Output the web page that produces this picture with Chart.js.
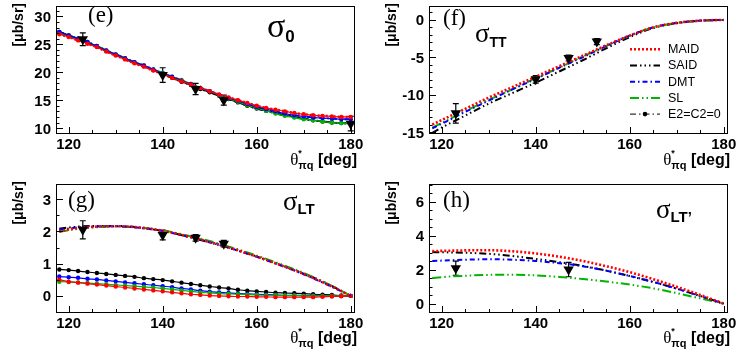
<!DOCTYPE html>
<html><head><meta charset="utf-8">
<script src="https://cdn.jsdelivr.net/npm/chart.js@4.4.0/dist/chart.umd.min.js"></script>
<style>
body{margin:0;background:#fff;}
#wrap{position:relative;width:747px;height:357px;background:#fff;overflow:hidden;}
canvas{position:absolute;}
</style></head><body>
<div id="wrap">
<canvas id="pe" width="373" height="178" style="left:0;top:0"></canvas>
<canvas id="pf" width="374" height="178" style="left:373px;top:0"></canvas>
<canvas id="pg" width="373" height="179" style="left:0;top:178px"></canvas>
<canvas id="ph" width="374" height="179" style="left:373px;top:178px"></canvas>
</div>
<script>
// ---------------- data ----------------
const grid2 = [118,120,122,124,126,128,130,132,134,136,138,140,142,144,146,148,150,152,154,156,158,160,162,164,166,168,170,172,174,176,178,180];
const grid5 = [118,120,125,130,135,140,145,150,155,160,165,170,175,180];
const xTicks = [120,140,160,180];

// (e) sigma_0
const e_yTicks = [10,15,20,25,30];
const e_MAID = [26.8,26.3,25.7,25.1,24.5,23.7,23.0,22.3,21.6,21.0,20.3,19.7,19.0,18.4,17.8,17.2,16.6,16.0,15.5,15.0,14.5,14.0,13.6,13.3,13.0,12.7,12.5,12.3,12.2,12.1,12.0,12.0];
const e_SAID = [27.2,26.6,26.0,25.3,24.6,23.8,23.1,22.4,21.7,21.1,20.4,19.7,19.0,18.3,17.7,17.0,16.4,15.8,15.2,14.6,14.0,13.5,13.1,12.7,12.3,12.0,11.7,11.4,11.2,11.0,10.9,10.8];
const e_DMT  = [27.2,26.6,26.0,25.4,24.7,23.9,23.2,22.5,21.8,21.2,20.5,19.8,19.2,18.5,17.9,17.2,16.6,16.0,15.4,14.9,14.3,13.8,13.4,13.0,12.6,12.3,12.1,11.9,11.8,11.7,11.6,11.6];
const e_SL   = [27.1,26.6,26.0,25.4,24.7,23.9,23.2,22.5,21.8,21.2,20.5,19.9,19.2,18.6,17.9,17.2,16.6,15.9,15.3,14.7,14.1,13.6,13.1,12.6,12.2,11.9,11.6,11.4,11.2,11.0,10.9,10.8];
const e_expX = [123,140,147,153,180];
const e_expY = [25.9,19.5,17.0,15.0,10.8];
const e_expE = [1.15,1.3,1.0,0.9,1.3];

// (f) sigma_TT
const f_yTicks = [-15,-10,-5,0];
const f_MAID = [-14.0,-13.4,-11.9,-10.4,-9.0,-7.6,-6.2,-4.8,-3.4,-2.1,-1.0,-0.4,-0.1,0.0];
const f_SAID = [-15.1,-14.4,-12.8,-11.2,-9.8,-8.4,-6.9,-5.4,-3.8,-2.3,-1.1,-0.45,-0.1,0.0];
const f_DMT  = [-14.5,-13.9,-12.3,-10.8,-9.3,-7.9,-6.4,-5.0,-3.5,-2.1,-1.0,-0.4,-0.1,0.0];
const f_SL   = [-14.4,-13.8,-12.2,-10.7,-9.3,-7.8,-6.4,-4.9,-3.5,-2.1,-1.0,-0.4,-0.1,0.0];
const f_expX = [123,140,147,153];
const f_expY = [-12.5,-7.95,-5.1,-2.9];
const f_expE = [1.3,0.5,0.4,0.4];

// (g) sigma_LT
const g_yTicks = [0,1,2,3];
const g_MAID = [2.00,2.06,2.14,2.16,2.12,2.02,1.86,1.67,1.46,1.22,0.96,0.68,0.36,0];
const g_SAID = [2.08,2.12,2.17,2.17,2.12,2.01,1.85,1.66,1.45,1.22,0.96,0.69,0.38,0];
const g_DMT  = [2.04,2.09,2.15,2.16,2.11,2.01,1.85,1.66,1.45,1.21,0.95,0.67,0.35,0];
const g_SL   = [1.98,2.04,2.12,2.15,2.12,2.03,1.88,1.70,1.49,1.25,0.99,0.71,0.38,0];
const g_MAID_E2 = [0.50,0.44,0.41,0.38,0.35,0.32,0.29,0.26,0.23,0.20,0.17,0.14,0.11,0.08,0.05,0.03,0.01,0.00,-0.01,-0.02,-0.02,-0.03,-0.03,-0.04,-0.04,-0.04,-0.04,-0.04,-0.03,-0.02,-0.01,0.00];
const g_SAID_E2 = [0.82,0.80,0.77,0.74,0.71,0.68,0.65,0.62,0.59,0.55,0.52,0.49,0.45,0.41,0.37,0.33,0.29,0.26,0.23,0.19,0.16,0.14,0.12,0.10,0.09,0.08,0.07,0.05,0.04,0.03,0.01,0.00];
const g_DMT_E2  = [0.60,0.58,0.56,0.53,0.51,0.48,0.45,0.42,0.39,0.36,0.33,0.30,0.27,0.23,0.20,0.16,0.13,0.11,0.09,0.07,0.06,0.05,0.04,0.03,0.02,0.02,0.01,0.01,0.00,0.00,0.00,0.00];
const g_SL_E2   = [0.44,0.43,0.42,0.40,0.38,0.36,0.34,0.32,0.30,0.28,0.26,0.23,0.20,0.17,0.14,0.11,0.09,0.07,0.06,0.05,0.04,0.03,0.02,0.02,0.01,0.01,0.00,0.00,0.00,0.00,0.00,0.00];
const g_expX = [123,140,147,153];
const g_expY = [2.05,1.89,1.80,1.62];
const g_expE = [0.28,0.15,0.10,0.10];

// (h) sigma_LT'
const h_yTicks = [0,2,4,6];
const h_MAID = [3.09,3.10,3.13,3.14,3.08,2.95,2.76,2.51,2.20,1.85,1.44,0.99,0.51,0];
const h_SAID = [3.03,3.02,2.99,2.93,2.80,2.63,2.44,2.22,1.94,1.62,1.27,0.88,0.45,0];
const h_DMT  = [2.51,2.53,2.58,2.61,2.58,2.51,2.38,2.20,1.94,1.63,1.28,0.88,0.45,0];
const h_SL   = [1.51,1.56,1.64,1.69,1.70,1.66,1.57,1.45,1.30,1.12,0.90,0.62,0.31,0];
const h_expX = [123,147];
const h_expY = [2.08,2.00];
const h_expE = [0.42,0.42];

const legendNames = ['MAID','SAID','DMT','SL','E2=C2=0'];

// ---------------- styles ----------------
const SANS = '"Liberation Sans", Arial, Helvetica, sans-serif';
const SERIF = '"Liberation Serif", "Times New Roman", serif';
const STY = {
  MAID: {color:'#ff0000', width:2.6, dash:[2,2]},
  SAID: {color:'#000000', width:2, dash:[7,3,1.5,3,1.5,3,1.5,3]},
  DMT:  {color:'#0000ff', width:2, dash:[5,3,1.5,3]},
  SL:   {color:'#00b400', width:2, dash:[9,3,1.5,3,1.5,3]},
  E2:   {color:'#000000', width:1, dash:[6,3,1.5,3]}
};

function pts(xs, ys){ return xs.map((x,i)=>({x:x, y:ys[i]})); }
function lineDS(xs, ys, s){
  return {data:pts(xs,ys), borderColor:s.color, borderWidth:s.width, borderDash:s.dash,
    pointRadius:0, fill:false, cubicInterpolationMode:'monotone', borderCapStyle:'butt'};
}
function markDS(xs, ys, color){
  return {data:pts(xs,ys), borderColor:color, backgroundColor:color, borderWidth:1.2,
    pointRadius:2.2, pointBorderWidth:0, pointStyle:'circle', fill:false, cubicInterpolationMode:'monotone'};
}
function expDS(xs, ys){
  return {data:pts(xs,ys), showLine:false, pointStyle:'triangle', rotation:180, pointRadius:6,
    backgroundColor:'#000', borderColor:'#000', borderWidth:0};
}

// ---------------- panel setup ----------------
const FRAME = {left:56, right:354, top:3};
const panels = {
  pe: {ymin:9.13, ymax:31.85, yTicks:e_yTicks, yMajor:5, yMinor:1, bottom:133,
       label:'(e)', lx:88, ly:22,
       sigma:{x:267, y:36.5, size:34, sub:'0', subSize:17, subDy:5},
       err:{x:e_expX, y:e_expY, e:e_expE},
       datasets:[expDS(e_expX,e_expY),
         markDS(grid2,e_MAID,'#ff0000'), markDS(grid2,e_DMT,'#0000ff'), markDS(grid2,e_SL,'#00b400'), markDS(grid2,e_SAID,'#000000'),
         lineDS(grid2,e_MAID,STY.MAID), lineDS(grid2,e_SAID,STY.SAID), lineDS(grid2,e_DMT,STY.DMT), lineDS(grid2,e_SL,STY.SL)]},
  pf: {ymin:-15.13, ymax:1.86, yTicks:f_yTicks, yMajor:5, yMinor:1, bottom:133,
       label:'(f)', lx:70, ly:25,
       sigma:{x:102, y:42, size:27, sub:'TT', subSize:14, subDy:5},
       err:{x:f_expX, y:f_expY, e:f_expE}, legend:true,
       datasets:[expDS(f_expX,f_expY),
         lineDS(grid5,f_MAID,STY.MAID), lineDS(grid5,f_DMT,STY.DMT), lineDS(grid5,f_SL,STY.SL), lineDS(grid5,f_SAID,STY.SAID)]},
  pg: {ymin:-0.5, ymax:3.47, yTicks:g_yTicks, yMajor:1, yMinor:0.5, bottom:134,
       label:'(g)', lx:68, ly:29,
       sigma:{x:283, y:32, size:27, sub:'LT', subSize:15, subDy:4},
       err:{x:g_expX, y:g_expY, e:g_expE},
       datasets:[expDS(g_expX,g_expY),
         lineDS(grid5,g_MAID,STY.MAID), lineDS(grid5,g_DMT,STY.DMT), lineDS(grid5,g_SL,STY.SL), lineDS(grid5,g_SAID,STY.SAID),
         markDS(grid2,g_MAID_E2,'#ff0000'), markDS(grid2,g_SL_E2,'#00b400'), markDS(grid2,g_DMT_E2,'#0000ff'), markDS(grid2,g_SAID_E2,'#000000')]},
  ph: {ymin:-0.49, ymax:7.03, yTicks:h_yTicks, yMajor:2, yMinor:0.5, bottom:134,
       label:'(h)', lx:70, ly:29,
       sigma:{x:283, y:39.5, size:27, sub:'LT\u2019', subSize:15, subDy:4},
       err:{x:h_expX, y:h_expY, e:h_expE},
       datasets:[expDS(h_expX,h_expY),
         lineDS(grid5,h_MAID,STY.MAID), lineDS(grid5,h_DMT,STY.DMT), lineDS(grid5,h_SAID,STY.SAID), lineDS(grid5,h_SL,STY.SL)]}
};

function drawSeg(ctx, segs, xRight, baseline){
  let widths = segs.map(s=>{ctx.font=s.font; return ctx.measureText(s.t).width;});
  let pos = [], x = 0, prevStart = 0, prevW = 0;
  segs.forEach((s,i)=>{
    if (s.stack){ pos.push(prevStart); prevW = Math.max(prevW, widths[i]); x = prevStart + prevW; }
    else { pos.push(x); prevStart = x; prevW = widths[i]; x += widths[i]; }
  });
  const x0 = xRight - x;
  segs.forEach((s,i)=>{ ctx.font=s.font; ctx.textAlign='left'; ctx.textBaseline='alphabetic'; ctx.fillText(s.t, x0+pos[i], baseline+(s.dy||0)); });
}

const TICKFONT = 'bold 15px '+SANS;

const rootPlugin = {
  id:'rootPanel',
  beforeDatasetsDraw(chart){
    const P = panels[chart.canvas.id];
    const {ctx, chartArea:a, scales:{x,y}} = chart;
    ctx.save();
    ctx.beginPath(); ctx.rect(a.left, a.top, a.right-a.left, a.bottom-a.top); ctx.clip();
    ctx.strokeStyle='#000'; ctx.lineWidth=1.2; ctx.setLineDash([]);
    P.err.x.forEach((xv,i)=>{
      const px = x.getPixelForValue(xv);
      const t = y.getPixelForValue(P.err.y[i]+P.err.e[i]);
      const b = y.getPixelForValue(P.err.y[i]-P.err.e[i]);
      ctx.beginPath();
      ctx.moveTo(px,t); ctx.lineTo(px,b);
      ctx.moveTo(px-3,t); ctx.lineTo(px+3,t);
      ctx.moveTo(px-3,b); ctx.lineTo(px+3,b);
      ctx.stroke();
    });
    ctx.restore();
  },
  afterDraw(chart){
    const P = panels[chart.canvas.id];
    const {ctx, chartArea:a, scales:{x,y}} = chart;
    ctx.save();
    ctx.setLineDash([]);
    ctx.strokeStyle='#000'; ctx.lineWidth=1;
    ctx.strokeRect(Math.round(a.left)+0.5, Math.round(a.top)+0.5, Math.round(a.right-a.left), Math.round(a.bottom-a.top));
    ctx.beginPath();
    for (let k=Math.ceil(x.min/5); k<=Math.floor(x.max/5); k++){
      const v = k*5; const px = Math.round(x.getPixelForValue(v))+0.5;
      const len = (v%20===0)?6:3;
      ctx.moveTo(px, a.bottom); ctx.lineTo(px, a.bottom-len);
    }
    for (let k=Math.ceil(y.min/P.yMinor-1e-9); k<=Math.floor(y.max/P.yMinor+1e-9); k++){
      const v = k*P.yMinor; const py = Math.round(y.getPixelForValue(v))+0.5;
      const r = v/P.yMajor; const major = Math.abs(r-Math.round(r))<1e-6;
      const len = major?7:3.5;
      ctx.moveTo(a.left, py); ctx.lineTo(a.left+len, py);
    }
    ctx.stroke();
    ctx.fillStyle='#000';
    // tick labels
    ctx.font = TICKFONT; ctx.textBaseline='alphabetic';
    ctx.textAlign='center';
    xTicks.forEach(v=>{ ctx.fillText(String(v), x.getPixelForValue(v), a.bottom+15.5); });
    ctx.textAlign='right';
    P.yTicks.forEach(v=>{ ctx.fillText(String(v), a.left-5, y.getPixelForValue(v)+5.5); });
    // panel label
    ctx.font = '23px '+SERIF; ctx.textAlign='left';
    ctx.fillText(P.label, P.lx, P.ly);
    // sigma title
    const s = P.sigma;
    ctx.font = s.size+'px '+SERIF;
    ctx.fillText('\u03C3', s.x, s.y);
    const sw = ctx.measureText('\u03C3').width;
    ctx.font = 'bold '+s.subSize+'px '+SANS;
    ctx.fillText(s.sub, s.x+sw, s.y+s.subDy);
    // y title
    ctx.save();
    ctx.translate(19, 3);
    ctx.rotate(-Math.PI/2);
    ctx.font = 'bold 14px '+SANS; ctx.textAlign='right'; ctx.textBaseline='middle';
    ctx.fillText('[\u03BCb/sr]', 0, 0);
    ctx.restore();
    // x title
    drawSeg(ctx, [
      {t:'\u03B8', font:'17px '+SERIF, dy:0},
      {t:'*', font:'bold 9px '+SANS, dy:-9},
      {t:'\u03C0q', font:'bold 11px '+SANS, dy:4, stack:true},
      {t:' [deg]', font:'bold 16px '+SANS, dy:0}
    ], a.right+3, 165);
    // legend
    if (P.legend){
      const keys = ['MAID','SAID','DMT','SL','E2'];
      keys.forEach((k,i)=>{
        const st = STY[k]; const yy = 49.3 + i*16.2;
        ctx.save();
        ctx.strokeStyle = st.color; ctx.lineWidth = st.width; ctx.setLineDash(st.dash); ctx.lineCap='butt';
        ctx.beginPath(); ctx.moveTo(257, yy); ctx.lineTo(287, yy); ctx.stroke();
        if (k==='E2'){ ctx.fillStyle='#000'; ctx.beginPath(); ctx.arc(272, yy, 2.3, 0, Math.PI*2); ctx.fill(); }
        ctx.restore();
        ctx.font = '12.5px '+SANS; ctx.textAlign='left'; ctx.textBaseline='middle'; ctx.fillStyle='#000';
        ctx.fillText(legendNames[i], 295, yy+0.5);
      });
    }
    ctx.restore();
  }
};

Object.keys(panels).forEach(id=>{
  const P = panels[id];
  const cv = document.getElementById(id);
  const W = cv.width, H = cv.height;
  new Chart(cv, {
    type:'line',
    data:{datasets:P.datasets},
    plugins:[rootPlugin],
    options:{
      responsive:false, animation:false, devicePixelRatio:1, events:[],
      layout:{padding:{left:FRAME.left, top:FRAME.top, right:W-FRAME.right, bottom:H-P.bottom}},
      plugins:{legend:{display:false}, tooltip:{enabled:false}},
      scales:{
        x:{type:'linear', min:117.3, max:180.7, display:false},
        y:{type:'linear', min:P.ymin, max:P.ymax, display:false}
      }
    }
  });
});
</script>
</body></html>
